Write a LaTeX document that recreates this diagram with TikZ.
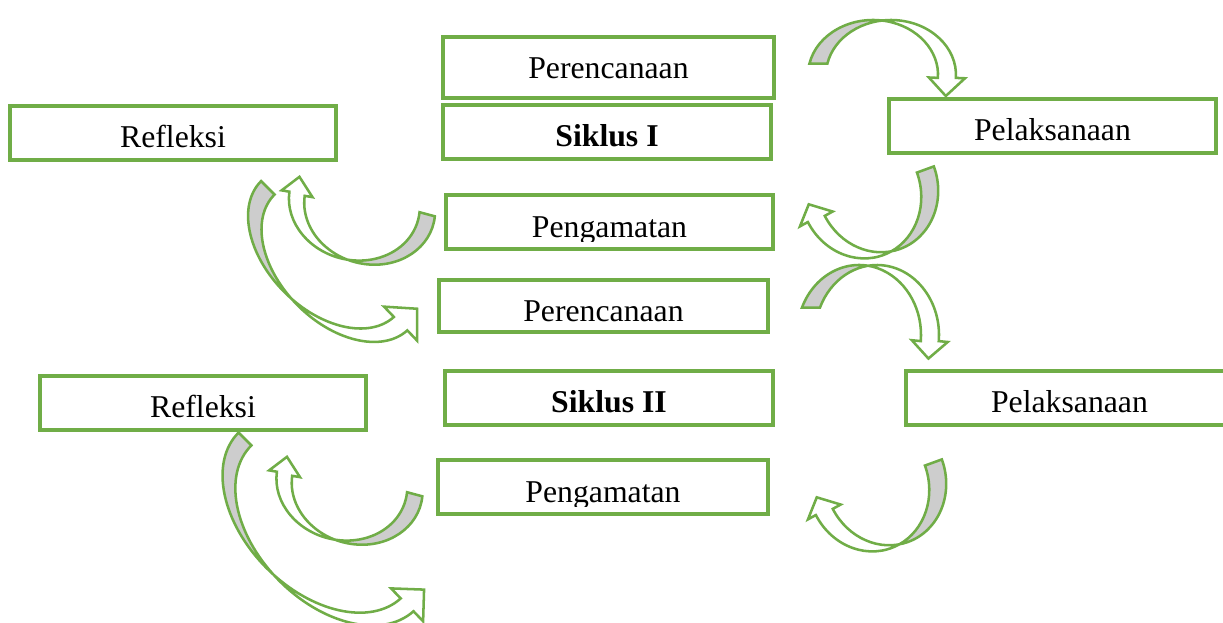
\documentclass[tikz,border=0pt]{standalone}
\usepackage{fontspec}
\setmainfont{Liberation Serif}[Ligatures=NoCommon]
\usetikzlibrary{calc}

\definecolor{boxgreen}{RGB}{112,173,71}
\definecolor{arrgrey}{RGB}{205,205,205}

\tikzset{
  stepbox/.style={draw=boxgreen, line width=2.6pt, rectangle, inner sep=0pt},
  steptext/.style={font=\fontsize{23.8}{28}\selectfont, inner sep=0pt, anchor=base},
  arrline/.style={draw=boxgreen, line width=1.9pt},
}

% Outline of a twisted curved block arrow in its own frame:
% two unit circles centred at (-d,0) and (d,0), tail at angle \cvT,
% head at angle \cvH (clockwise), barb length \cvB, tip length \cvL.
\newcommand\arrowoutline[1]{%
  \path[#1] ($(-\cvD,0)+(\cvT:1)$) arc[start angle=\cvT, end angle=\cvH, radius=1]
    -- ($(-\cvD,0)+(\cvH:{1-\cvB})$)
    -- ($(\cvH:1)+({\cvH-90}:\cvL)$)
    -- ($(\cvD,0)+(\cvH:{1+\cvB})$)
    -- ($(\cvD,0)+(\cvH:1)$)
    arc[start angle=\cvH, end angle=\cvT, radius=1] -- cycle;}

% #1 placement (shift, rotate, scales), #2 tail angle, #3 head angle,
% #4 half band offset, #5 barb, #6 tip length
\newcommand\curvedarrow[6]{%
  \begin{scope}[#1]
    \def\cvT{#2}\def\cvH{#3}\def\cvD{#4}\def\cvB{#5}\def\cvL{#6}%
    \arrowoutline{fill=white}
    \begin{scope}
      \clip (-3,-3) rectangle (0,3);
      \arrowoutline{fill=arrgrey}
    \end{scope}
    \arrowoutline{arrline}
  \end{scope}}

% name, x0, y0, x1, y1, text
\newcommand\stepboxat[6]{%
  \node[stepbox, minimum width={(#4-#2)*0.75pt}, minimum height={(#5-#3)*0.75pt}]
    (#1) at ({(#2+#4)/2},{(#3+#5)/2}) {};
  \node[steptext] (#1-text) at ({(#2+#4)/2},{#3+41}) {#6};}

\begin{document}
\begin{tikzpicture}[x=0.75pt, y=0.75pt, yscale=-1]
\useasboundingbox (0,0) rectangle (1223,622);
\clip (0,0) rectangle (1223,622);

% ---- cycle I arrows ----
\curvedarrow{shift={(882,75)}, xscale=65, yscale=-55}{168}{-3}{0.138}{0.14}{0.33}
\curvedarrow{shift={(869,190)}, rotate=-200, xscale=60, yscale=-66}{180}{8}{0.15}{0.15}{0.25}
\curvedarrow{shift={(362,205)}, rotate=-165, xscale=66, yscale=-57}{188}{6}{0.12}{0.12}{0.3}
\curvedarrow{shift={(335,255)}, rotate=45, xscale=95, yscale=62}{180}{2}{0.1}{0.15}{0.36}

% ---- cycle II arrows ----
\curvedarrow{shift={(868,335)}, xscale=62, yscale=-70}{157}{-5}{0.145}{0.145}{0.25}
\curvedarrow{shift={(877,483)}, rotate=-200, xscale=60, yscale=-66}{180}{8}{0.15}{0.15}{0.25}
\curvedarrow{shift={(349.5,485)}, rotate=-165, xscale=66, yscale=-57}{188}{6}{0.12}{0.12}{0.3}
\curvedarrow{shift={(327,521)}, rotate=45, xscale=116, yscale=76}{180}{2}{0.078}{0.12}{0.3}

% ---- cycle I boxes ----
\stepboxat{per1}{443}{37}{774}{98}{Perencanaan}
\stepboxat{sik1}{443}{105}{771}{159}{\textbf{Siklus I}}
\stepboxat{ref1}{10}{106}{336}{160}{Refleksi}
\stepboxat{pel1}{889}{99}{1216}{153}{Pelaksanaan}
\node[stepbox, minimum width={327*0.75pt}, minimum height={54*0.75pt}] (pen1) at (609.5,222) {};
\begin{scope}
  \clip (446,195) rectangle (773,241);
  \node[steptext] (pen1-text) at (609.5,237) {Pengamatan};
\end{scope}

% ---- cycle II boxes ----
\stepboxat{per2}{439}{280}{768}{332}{Perencanaan}
\stepboxat{sik2}{445}{371}{773}{425}{\textbf{Siklus II}}
\stepboxat{ref2}{40}{376}{366}{430}{Refleksi}
\stepboxat{pel2}{906}{371}{1233}{425}{Pelaksanaan}
\node[stepbox, minimum width={330*0.75pt}, minimum height={54*0.75pt}] (pen2) at (603,487) {};
\begin{scope}
  \clip (438,460) rectangle (768,506);
  \node[steptext] (pen2-text) at (603,502) {Pengamatan};
\end{scope}
\end{tikzpicture}
\end{document}
